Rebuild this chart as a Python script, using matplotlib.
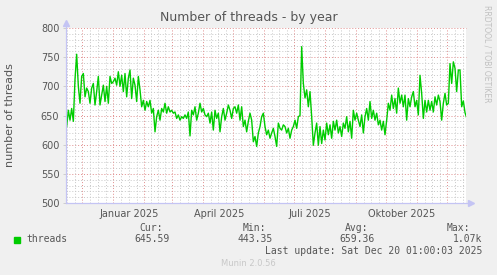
import datetime as dt
import numpy as np
import matplotlib
matplotlib.use("Agg")
import matplotlib.pyplot as plt
import matplotlib.dates as mdates

# threads (one sample every ~1.67 days)
threads = [
    631, 659, 642, 662, 640, 712, 755, 700, 671, 717, 722, 682, 697, 691, 671, 697,
    705, 668, 691, 717, 668, 685, 702, 674, 700, 671, 717, 705, 708, 714, 702, 725,
    700, 719, 691, 722, 682, 714, 728, 679, 714, 702, 674, 717, 694, 665, 676, 659,
    674, 665, 676, 654, 662, 622, 648, 659, 642, 662, 656, 671, 654, 665, 656, 659,
    654, 656, 645, 651, 642, 648, 645, 651, 645, 656,
    615, 659, 651, 665, 642, 654, 671, 656, 662, 651, 648, 654, 637, 656, 625, 659,
    645, 654, 622, 648, 662, 642, 654, 668, 659, 645, 662, 665, 654, 668, 642, 665,
    631, 642, 622, 640, 654, 642, 605, 614, 597, 620, 631,
    648, 654, 631, 617, 625, 611, 620, 628, 614, 597, 637, 628, 625, 634, 631, 620,
    628, 611, 625, 631, 642, 628, 648, 650, 768, 705, 680, 694,
    665, 691, 648, 599, 620, 637, 599, 631, 602, 625, 608, 637, 617, 634, 611, 640,
    625, 642, 620, 631, 614, 637, 628, 648, 622, 640, 611, 659, 642, 654, 642, 631,
    651, 620, 648, 662, 642, 674, 645, 659, 642, 654, 634, 642, 625, 640, 617, 642,
    671, 659, 685, 662, 679, 654, 697, 671, 685, 665, 685, 642, 679, 665, 682, 691,
    665, 676, 651, 719, 688, 645, 676, 656, 676, 659, 674, 656, 682, 668, 685, 674,
    642, 671, 688, 668, 671, 739, 705, 742, 731, 691, 728, 728,
    665, 675, 655, 646,
]
start = dt.datetime(2024, 11, 15, 1, 0, 3)
end = dt.datetime(2025, 12, 20, 1, 0, 3)
first_offset = 0.37   # days
step = 5 / 3          # days
months = [dt.datetime(2024, m, 1) for m in (11, 12)] + [dt.datetime(2025, m, 1) for m in range(1, 13)] + [dt.datetime(2026, 1, 1)]
label_months = [dt.datetime(2025, 1, 1), dt.datetime(2025, 4, 1), dt.datetime(2025, 7, 1), dt.datetime(2025, 10, 1)]
label_names = ["Januar 2025", "April 2025", "Juli 2025", "Oktober 2025"]

legend_cols = ["Cur:", "Min:", "Avg:", "Max:"]
legend_vals = ["645.59", "443.35", "659.36", "1.07k"]

t0 = mdates.date2num(start)
x = t0 + first_offset + np.arange(len(threads)) * step

txt = "#555555"
fig = plt.figure(figsize=(4.97, 2.75), dpi=100, facecolor="#f0f0f0")
W, H = 497, 275
ax = fig.add_axes([66.3 / W, 72 / H, 400 / W, 175 / H])
ax.set_facecolor("white")
ax.set_xlim(t0, mdates.date2num(end))
ax.set_ylim(500, 800)

dots = (0, (1, 2))
for v in range(510, 800, 10):
    if v % 50:
        ax.axhline(v, color="#c8c8c8", lw=0.7, ls=dots, zorder=1)
for v in range(550, 801, 50):
    ax.axhline(v, color="#e08c8c", lw=0.7, ls=dots, zorder=1, clip_on=False)
for a, b in zip(months[:-1], months[1:]):
    na, nb = mdates.date2num(a), mdates.date2num(b)
    for k in (1, 2, 3):
        ax.axvline(na + (nb - na) * k / 4, color="#c8c8c8", lw=0.7, ls=dots, zorder=1)
    if a > start:
        ax.axvline(na, color="#e08c8c", lw=0.7, ls=dots, zorder=1)

ax.plot(x, threads, color="#00cc00", lw=1.0, zorder=3)

for s in ax.spines.values():
    s.set_visible(False)
axc = "#c4c4f4"
ax.plot([0, 0], [0, 1.02], color=axc, lw=0.9, transform=ax.transAxes, clip_on=False, zorder=4)
ax.plot([0, 1.01], [0, 0], color=axc, lw=0.9, transform=ax.transAxes, clip_on=False, zorder=4)
ax.plot([0], [1.03], marker="^", ms=4, color=axc, transform=ax.transAxes, clip_on=False, zorder=4)
ax.plot([1.012], [0], marker=">", ms=4, color=axc, transform=ax.transAxes, clip_on=False, zorder=4)

ax.set_yticks(range(500, 801, 50))
ax.tick_params(axis="y", length=2, width=0.6, color="#c8c8c8", labelsize=7, labelcolor=txt, pad=3)
ax.set_xticks([mdates.date2num(m) + 15.5 for m in label_months])
ax.set_xticklabels(label_names)
ax.tick_params(axis="x", length=0, labelsize=7, labelcolor=txt, pad=4)

fig.text(248.5 / W, 1 - 18 / H, "Number of threads - by year", ha="center", va="center",
         fontsize=9, color=txt)
fig.text(10.5 / W, 1 - 115.5 / H, "number of threads", ha="center", va="center",
         rotation=90, fontsize=8, color=txt)
fig.text(487 / W, 1 - 5 / H, "RRDTOOL / TOBI OETIKER", ha="center", va="top",
         rotation=270, fontsize=5.5, color="#c0c0c0")

mono = "DejaVu Sans Mono"
fig.patches.append(plt.Rectangle((14 / W, 1 - 242.7 / H), 5.5 / W, 5.5 / H,
                                 transform=fig.transFigure, color="#00cc00"))
fig.text(26.7 / W, 1 - 239.5 / H, "threads", ha="left", va="center", fontsize=7, family=mono, color=txt)
for name, hx, val, vx in zip(legend_cols, [163.3, 266, 368.3, 470], legend_vals, [170, 272.3, 375, 482.3]):
    fig.text(hx / W, 1 - 228 / H, name, ha="right", va="center", fontsize=7, family=mono, color=txt)
    fig.text(vx / W, 1 - 239.5 / H, val, ha="right", va="center", fontsize=7, family=mono, color=txt)
fig.text(482.3 / W, 1 - 251.5 / H, "Last update: Sat Dec 20 01:00:03 2025", ha="right", va="center",
         fontsize=7, family=mono, color=txt)
fig.text(248 / W, 1 - 264 / H, "Munin 2.0.56", ha="center", va="center", fontsize=6, color="#c8c8c8")

fig.savefig("out.png", dpi=100, facecolor=fig.get_facecolor())
